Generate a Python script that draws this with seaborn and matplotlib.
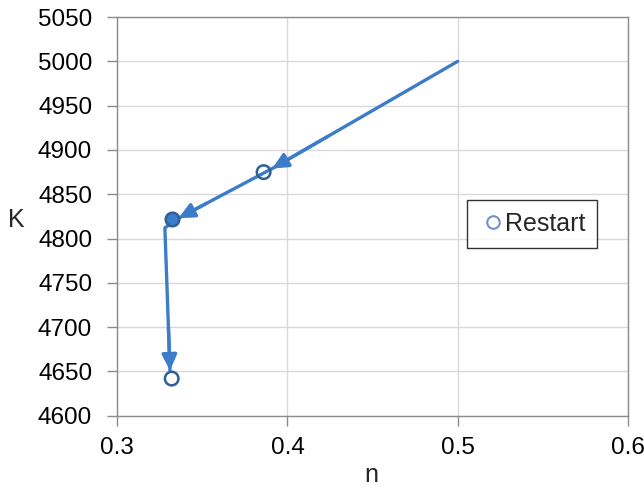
import matplotlib
matplotlib.use("Agg")
import matplotlib.pyplot as plt
import numpy as np
import pandas as pd
import seaborn as sns

# path of the iteration
path_n = [0.5, 0.391, 0.336, 0.328, 0.331]
path_k = [5000, 4879, 4823, 4812, 4651]

# restart points
restart_n = [0.386, 0.332, 0.332]
restart_k = [4875, 4822, 4642]
restart_filled = [False, True, False]

# arrow heads sit at these path vertices
arrow_idx = [1, 2, 4]

line_col = "#3d7cc9"
edge_col = "#2e5f96"

sns.set_style("whitegrid")
plt.rcParams["font.family"] = ["Liberation Sans", "DejaVu Sans"]

fig = plt.figure(figsize=(6.44, 4.88), dpi=100)
ax = fig.add_axes([0.182, 0.148, 0.793, 0.817])

path = pd.DataFrame({"n": path_n, "K": path_k})
sns.lineplot(data=path, x="n", y="K", sort=False, color=line_col, lw=2.4, ax=ax)

for i in arrow_idx:
    x0, y0 = path_n[i - 1], path_k[i - 1]
    x1, y1 = path_n[i], path_k[i]
    ax.annotate("", xy=(x1, y1), xytext=(x0 + (x1 - x0) * 0.7, y0 + (y1 - y0) * 0.7),
                arrowprops=dict(arrowstyle="-|>,head_length=0.95,head_width=0.45",
                                color=line_col, lw=2.4, shrinkA=0, shrinkB=0))

rs = pd.DataFrame({"n": restart_n, "K": restart_k, "filled": restart_filled})
open_pts = rs[~rs["filled"]]
full_pts = rs[rs["filled"]]
sns.scatterplot(data=open_pts, x="n", y="K", marker="o", s=95, facecolor="none",
                edgecolor=edge_col, linewidth=1.8, ax=ax, zorder=5)
sns.scatterplot(data=full_pts, x="n", y="K", marker="o", s=95, color=line_col,
                edgecolor=edge_col, linewidth=1.8, ax=ax, zorder=5)

ax.set_xlim(0.3, 0.6)
ax.set_ylim(4600, 5050)
ax.set_xticks(np.arange(0.3, 0.61, 0.1))
ax.set_xticklabels(["0.3", "0.4", "0.5", "0.6"])
ax.set_yticks(np.arange(4600, 5051, 50))
ax.tick_params(labelsize=17.5, labelcolor="#000000", color="#8c8c8c",
               length=7, width=1, direction="out", bottom=True, left=True)
ax.tick_params(axis="y", pad=11)
ax.tick_params(axis="x", pad=8)
ax.grid(True, color="#d9d9d9", lw=1)
for s in ax.spines.values():
    s.set_color("#8c8c8c")
    s.set_linewidth(1)
ax.set_xlabel("n", fontsize=18, va="center")
ax.set_ylabel("K", fontsize=18, rotation=0, va="center", ha="center")
ax.xaxis.set_label_coords(0.498, -0.148)
ax.yaxis.set_label_coords(-0.198, 0.49)

h = plt.Line2D([], [], marker="o", ls="none", markerfacecolor="none",
               markeredgecolor="#6f93c6", markersize=9, markeredgewidth=1.5)
leg = ax.legend([h], ["Restart"], loc="upper left", bbox_to_anchor=(0.685, 0.541),
                fontsize=18, frameon=True, fancybox=False, handletextpad=-0.1,
                handlelength=1.14, borderpad=0.47, borderaxespad=0)
leg.get_frame().set_edgecolor("#000000")
leg.get_frame().set_linewidth(1)

fig.savefig("out.png", dpi=100)
